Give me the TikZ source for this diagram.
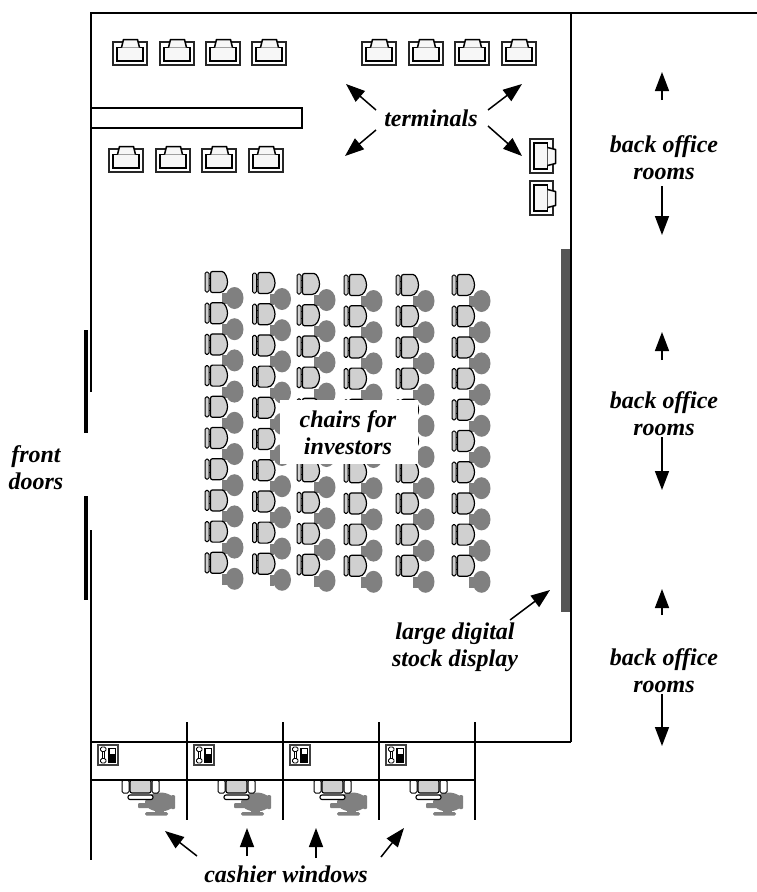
\documentclass[tikz,border=0pt]{standalone}
\usepackage{fontspec}
\setmainfont{Liberation Serif}
\usetikzlibrary{arrows.meta}
\definecolor{seatgray}{HTML}{D0D0D0}
\definecolor{bodygray}{HTML}{808080}
\definecolor{screen}{HTML}{F7F7F7}
\definecolor{displaygray}{HTML}{555555}
\tikzset{
  wall/.style={draw=black,line width=2pt},
  thinwall/.style={draw=black,line width=1.6pt},
  lbl/.style={font=\fontsize{24}{27}\selectfont\bfseries\itshape,align=center,inner sep=0pt},
  callout/.style={-{Triangle[length=19pt,width=14pt]},line width=1.5pt,black},
  term/.pic={
    \draw[black!85,line width=1.3pt,fill=white] (0,0) rectangle (34,23);
    \draw[black,line width=1.7pt,fill=screen] (4,5.5) rectangle (30,19);
    \draw[black,line width=1.5pt,fill=screen,line join=round] (8.5,5.5) -- (10.5,-2.5) -- (24.5,-2.5) -- (26.5,5.5);
  },
  chairgray/.pic={
    \fill[bodygray] (17,11) rectangle (21.5,22);
    \fill[bodygray] (20,14) rectangle (25,18);
    \fill[bodygray] (29.5,16) ellipse [x radius=9,y radius=11];
  },
  chairtop/.pic={
    \draw[black,line width=.9pt] (4,-3.5) -- (6,-3.5) (4,3.5) -- (6,3.5);
    \draw[black,line width=1pt,fill=seatgray,rounded corners=1.5pt] (0,-10) rectangle (4,10);
    \draw[black,line width=1.2pt,fill=seatgray,rounded corners=2pt] (5.5,-10.5) -- (15,-10.5) [sharp corners] .. controls (20,-10.5) and (22.5,-4) .. (22.5,0)
       .. controls (22.5,4) and (20,10.5) .. (15,10.5) [rounded corners=2pt] -- (5.5,10.5) -- cycle;
  },
  cashchair/.pic={
    % origin: left edge of the left arm on line y=780
    \fill[bodygray] (38,22) ellipse [x radius=15,y radius=9.5];
    \fill[bodygray,rounded corners=1pt] (16,23) rectangle (28,28);
    \fill[bodygray] (48,19) rectangle (53,25);
    \fill[bodygray,rounded corners=1pt] (49,15) rectangle (53,29);
    \fill[bodygray] (33,28) rectangle (42,33);
    \fill[bodygray,rounded corners=1.5pt] (23,32) rectangle (46,35.5);
    \draw[black,line width=1pt,fill=white,rounded corners=1.5pt] (0,0) rectangle (7,13);
    \draw[black,line width=1pt,fill=white,rounded corners=1.5pt] (30,0) rectangle (37,13);
    \draw[black,line width=1.1pt,fill=seatgray,rounded corners=2pt] (8,0) rectangle (29,13);
    \draw[black,line width=1.1pt,fill=white,rounded corners=2pt] (6,15) rectangle (31,19.5);
  },
  phone/.pic={
    \draw[black!75,line width=1.2pt,fill=white] (0,0) rectangle (20,20);
    \fill[black] (10,3) rectangle (18,17.5);
    \fill[white] (12,3.8) rectangle (17,8.5);
    \draw[black,line width=.9pt,fill=white,rounded corners=1.5pt] (2.5,2) rectangle (8,6.5);
    \draw[black,line width=.9pt,fill=white,rounded corners=1.5pt] (2.5,13.5) rectangle (8,18);
    \draw[black,line width=.9pt,fill=white] (4,6.5) rectangle (6.5,13.5);
  }
}
\begin{document}
\begin{tikzpicture}[x=1pt,y=-1pt]
\useasboundingbox (0,0) rectangle (757,892);
\fill[white] (0,0) rectangle (757,892);

% chairs for investors: gray bodies, then seats
\foreach \cx/\cy in {205/282,252.5/283,297/284,344/285,396/285,452/285}{
  \foreach \i in {0,...,9}{
    \pic at (\cx,{\cy+31.2*\i}) {chairgray};
  }
}
\foreach \cx/\cy in {205/282,252.5/283,297/284,344/285,396/285,452/285}{
  \foreach \i in {0,...,9}{
    \pic at (\cx,{\cy+31.2*\i}) {chairtop};
  }
}
\fill[white] (280,400) rectangle (418,464);

% terminals
\foreach \tx in {113,160,206,252,362,409,455,502}{ \pic at (\tx,42) {term}; }
\foreach \tx in {109,156,202,249}{ \pic at (\tx,149) {term}; }
\pic[rotate=-90] at (553,139) {term};
\pic[rotate=-90] at (553,181) {term};

% display
\fill[displaygray] (561,249) rectangle (571,612);

% cashier chairs and phones
\foreach \k in {0,1,2,3}{
  \pic at ({122+96*\k},780) {cashchair};
  \pic at ({98+96*\k},745) {phone};
}

% walls
\draw[wall] (91,392) -- (91,13) -- (757,13);
\draw[wall] (91,530) -- (91,860);
\draw[wall] (571,13) -- (571,742);
\draw[wall] (91,742) -- (571,742);
\draw[thinwall] (91,780) -- (475,780);
\foreach \vx in {187,283,379,475}{ \draw[wall] (\vx,722) -- (\vx,820); }
\draw[wall,fill=white] (91,108) rectangle (302,128);
\fill[black] (84,330) rectangle (88,433);
\fill[black] (84,496) rectangle (88,600);

% labels
\node[lbl] (lterm) at (431,118) {terminals};
\node[lbl] (lb1) at (664,158) {back office\\rooms};
\node[lbl] (lb2) at (664,414) {back office\\rooms};
\node[lbl] (lb3) at (664,671) {back office\\rooms};
\node[lbl] (lch) at (348,433) {chairs for\\investors};
\node[lbl] (lfd) at (36,468) {front\\doors};
\node[lbl] (ldisp) at (455,647) {large digital\\stock display};
\node[lbl] (lcash) at (286,874) {cashier windows};

% callouts
\draw[callout] (376,110) -- (346,84);
\draw[callout] (376,130) -- (345,156);
\draw[callout] (488,110) -- (522,84);
\draw[callout] (488,126) -- (522,156);
\draw[callout] (662,100) -- (662,72);
\draw[callout] (662,186) -- (662,235);
\draw[callout] (662,360) -- (662,332);
\draw[callout] (662,437) -- (662,490);
\draw[callout] (662,615) -- (662,589);
\draw[callout] (662,694) -- (662,746);
\draw[callout] (510,620) -- (550,590);
\draw[callout] (197,856) -- (165,831);
\draw[callout] (247,856) -- (247,828);
\draw[callout] (316,858) -- (316,828);
\draw[callout] (381,857) -- (404,828);
\end{tikzpicture}
\end{document}
